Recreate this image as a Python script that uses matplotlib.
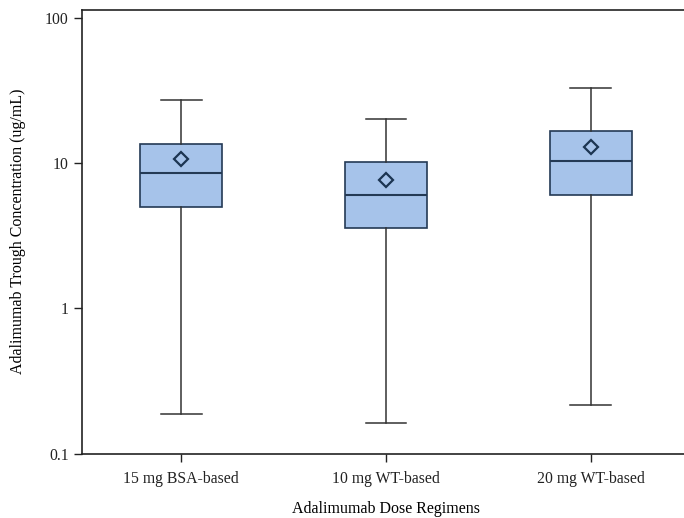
import matplotlib
import matplotlib.pyplot as plt

matplotlib.use('Agg')

groups = ['15 mg BSA-based', '10 mg WT-based', '20 mg WT-based']
whislo = [0.187, 0.162, 0.216]
q1 = [4.96, 3.56, 6.0]
med = [8.5, 6.0, 10.3]
q3 = [13.6, 10.1, 16.5]
whishi = [27.0, 20.0, 32.7]
mean = [10.6, 7.6, 12.8]

plt.rcParams['font.family'] = ['Liberation Serif', 'DejaVu Serif']

fig = plt.figure(figsize=(6.84, 5.18), dpi=100)
ax = fig.add_axes([82 / 684, 1 - 453.5 / 518, 608 / 684, 444 / 518])

stats = []
for i, name in enumerate(groups):
    stats.append({'label': name, 'whislo': whislo[i], 'q1': q1[i], 'med': med[i],
                  'q3': q3[i], 'whishi': whishi[i], 'mean': mean[i]})

ax.bxp(stats, positions=[1, 2, 3], widths=0.4, capwidths=0.2, showmeans=True,
       showfliers=False, patch_artist=True,
       boxprops=dict(facecolor='#a6c3ea', edgecolor='#243a55', lw=1.2),
       medianprops=dict(color='#243a55', lw=1.5),
       whiskerprops=dict(color='#333333', lw=1.1),
       capprops=dict(color='#333333', lw=1.1),
       meanprops=dict(marker='D', markerfacecolor='none', markeredgecolor='#1c3552',
                      markeredgewidth=1.6, markersize=7))

ax.set_yscale('log')
ax.set_ylim(0.1, 114)
ax.set_xlim(0.517, 3.483)
ax.set_yticks([0.1, 1, 10, 100])
ax.set_yticklabels(['0.1', '1', '10', '100'])
ax.yaxis.set_minor_locator(matplotlib.ticker.NullLocator())

ax.tick_params(direction='out', length=6, width=1, labelsize=11.3, colors='#222222')
ax.tick_params(axis='x', pad=6.3)
for s in ax.spines.values():
    s.set_linewidth(1.2)
    s.set_color('#222222')

ax.set_xlabel('Adalimumab Dose Regimens', fontsize=11.5, labelpad=10.5)
ax.set_ylabel('Adalimumab Trough Concentration (ug/mL)', fontsize=11.5, labelpad=14)

plt.savefig('out.png', dpi=100)
plt.close()
